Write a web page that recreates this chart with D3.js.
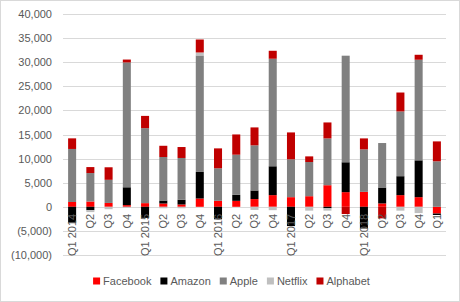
<!DOCTYPE html>
<html lang="en">
<head>
  <meta charset="UTF-8">
  <title>Quarterly stacked chart</title>
  <script src="https://d3js.org/d3.v7.min.js"></script>
  <style>
    body {
      margin: 0;
      background-color: white;
      font-family: "Liberation Sans", Arial, sans-serif;
    }
    .tick text, .xlabel, .legend text {
      fill: #595959;
      font-size: 11px;
    }
  </style>
</head>
<body>
  <div id="chart"></div>

  <script>
    // Category labels along the bottom
    const quarters = [
      'Q1 2014', 'Q2', 'Q3', 'Q4',
      'Q1 2015', 'Q2', 'Q3', 'Q4',
      'Q1 2016', 'Q2', 'Q3', 'Q4',
      'Q1 2017', 'Q2', 'Q3', 'Q4',
      'Q1 2018', 'Q2', 'Q3', 'Q4',
      'Q1'
    ];

    // Series values, one per quarter
    const facebook = [1000, 1100, 800, 350, 760, 680, 480, 1720, 1240, 1240, 1600, 2420, 2000, 2200, 4480, 3040, 3100, 700, 2420, 2000, -1400];
    const amazon = [-3300, -700, 0, 3700, -2300, 620, 970, 5510, -2600, 1240, 1790, 5990, -4000, 0, -300, 6200, -4500, 3300, 3930, 7640, -300];
    const apple = [11000, 5900, 4800, 25900, 15560, 9030, 8680, 24170, 6750, 8330, 9360, 22310, 7850, 7090, 9710, 22110, 8820, 9230, 13430, 20870, 9440];
    const netflix = [0, -400, -500, -200, 0, -300, -300, 620, 0, 0, -650, -700, 0, -800, -500, 0, 0, 0, -800, -1300, 0];
    const alphabet = [2200, 1240, 2600, 600, 2540, 2330, 2270, 2690, 4130, 4200, 3720, 1650, 5580, 1170, 3310, -1500, 2270, -2400, 3930, 1030, 4130];

    const seriesNames = ['Facebook', 'Amazon', 'Apple', 'Netflix', 'Alphabet'];
    const seriesValues = [facebook, amazon, apple, netflix, alphabet];
    const colors = ['#ff0000', '#000000', '#808080', '#bfbfbf', '#c00000'];

    const yTicks = [-10000, -5000, 0, 5000, 10000, 15000, 20000, 25000, 30000, 35000, 40000];

    const width = 460;
    const height = 302;
    const plot = { left: 63, right: 446, top: 14, bottom: 255 };

    // rows for d3.stack
    const rows = quarters.map((q, i) => {
      const row = { idx: i };
      seriesNames.forEach((s, j) => { row[s] = seriesValues[j][i]; });
      return row;
    });

    const stacked = d3.stack()
      .keys(seriesNames)
      .order(d3.stackOrderNone)
      .offset(d3.stackOffsetDiverging)(rows);

    const x = d3.scaleBand()
      .domain(d3.range(quarters.length))
      .range([plot.left, plot.right])
      .paddingInner(0.56)
      .paddingOuter(0.28);

    const y = d3.scaleLinear()
      .domain([-10000, 40000])
      .range([plot.bottom, plot.top]);

    const color = d3.scaleOrdinal().domain(seriesNames).range(colors);

    const svg = d3.select('#chart')
      .append('svg')
      .attr('width', width)
      .attr('height', height);

    // chart border
    svg.append('rect')
      .attr('x', 0.5)
      .attr('y', 0.5)
      .attr('width', width - 1)
      .attr('height', height - 1)
      .attr('fill', 'white')
      .attr('stroke', '#d9d9d9');

    // gridlines
    svg.append('g')
      .selectAll('line')
      .data(yTicks)
      .enter()
      .append('line')
      .attr('x1', plot.left)
      .attr('x2', plot.right)
      .attr('y1', d => Math.round(y(d)) + 0.5)
      .attr('y2', d => Math.round(y(d)) + 0.5)
      .attr('stroke', '#d9d9d9')
      .attr('stroke-width', 1);

    // y axis labels
    const fmt = d3.format(',');
    const yAxis = d3.axisLeft(y)
      .tickValues(yTicks)
      .tickSize(0)
      .tickPadding(11)
      .tickFormat(d => d < 0 ? `(${fmt(-d)})` : fmt(d));

    svg.append('g')
      .attr('transform', `translate(${plot.left}, 0)`)
      .call(yAxis)
      .call(g => g.select('.domain').remove())
      .selectAll('text')
      .style('font-family', '"Liberation Sans", Arial, sans-serif');

    // bars
    svg.append('g')
      .selectAll('g')
      .data(stacked)
      .enter()
      .append('g')
      .attr('fill', d => color(d.key))
      .selectAll('rect')
      .data(d => d)
      .enter()
      .append('rect')
      .attr('x', d => x(d.data.idx))
      .attr('width', x.bandwidth())
      .attr('y', d => y(Math.max(d[0], d[1])))
      .attr('height', d => Math.abs(y(d[0]) - y(d[1])));

    // category labels, rotated, drawn over bars
    svg.append('g')
      .selectAll('text')
      .data(quarters)
      .enter()
      .append('text')
      .attr('class', 'xlabel')
      .attr('text-anchor', 'end')
      .attr('transform', (d, i) => `translate(${x(i) + x.bandwidth() / 2}, ${y(0) + 7}) rotate(-90)`)
      .attr('dy', '0.35em')
      .text(d => d);

    // legend
    const legend = svg.append('g').attr('class', 'legend');
    const items = legend.selectAll('g')
      .data(seriesNames)
      .enter()
      .append('g');

    items.append('rect')
      .attr('width', 7)
      .attr('height', 7)
      .attr('y', 277.5)
      .attr('fill', d => color(d));

    items.append('text')
      .attr('x', 10)
      .attr('y', 285)
      .text(d => d);

    let offset = 0;
    const positions = [];
    items.each(function() {
      const w = this.querySelector('text').getComputedTextLength();
      positions.push(offset);
      offset += 10 + w + 9;
    });
    const total = offset - 9;
    const start = 231.5 - total / 2;
    items.attr('transform', (d, i) => `translate(${start + positions[i]}, 0)`);
  </script>
</body>
</html>
